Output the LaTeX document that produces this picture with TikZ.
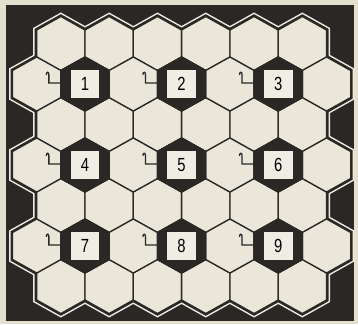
\documentclass[tikz,border=0pt]{standalone}
\usepackage{fontspec}
\setsansfont{Liberation Sans}
\usetikzlibrary{positioning}
\definecolor{paper}{RGB}{228,224,208}
\definecolor{cellfill}{RGB}{234,230,217}
\definecolor{ink}{RGB}{42,40,37}
\definecolor{rim}{RGB}{238,235,225}

% hexagon path around the current origin
\newcommand{\hexcell}{(0,-27) -- (24.15,-13.5) -- (24.15,13.5) -- (0,27) -- (-24.15,13.5) -- (-24.15,-13.5) -- cycle}

\begin{document}
\begin{tikzpicture}[
  x=1pt, y=-1pt,
  rimline/.style={draw=rim, line width=7pt, line join=miter},
  gapline/.style={draw=ink, line width=4pt, line join=miter},
  cell/.style={fill=cellfill, draw=ink, line width=1.3pt, line join=round},
  darkcell/.style={fill=ink, draw=ink, line width=1.3pt},
  numbox/.style={draw=ink, fill=cellfill!70!white, line width=1.4pt,
                 minimum size=30pt, inner sep=0pt,
                 font=\sffamily\fontsize{19}{19}\selectfont},
  hook/.style={draw=ink, line width=1.3pt, line cap=round},
]
\useasboundingbox (0,0) rectangle (358,324);
\fill[paper] (0,0) rectangle (358,324);
\fill[ink] (6,5) rectangle (354,321);

% board: three layers give the double rim
\foreach \sty in {rimline, gapline, cell} {
  \foreach \r in {0,2,4,6}
    \foreach \k in {0,...,5}
      \path[\sty, shift={(60.85+48.3*\k, 43.5+40.5*\r)}] \hexcell;
  \foreach \r in {1,3,5}
    \foreach \k in {0,...,6}
      \path[\sty, shift={(36.7+48.3*\k, 43.5+40.5*\r)}] \hexcell;
}

% numbered cells
\foreach \r [count=\i from 0] in {1,3,5}
  \foreach \k [count=\j from 1] in {1,3,5} {
    \pgfmathtruncatemacro{\num}{3*\i+\j}
    \path[darkcell, shift={(36.7+48.3*\k, 43.5+40.5*\r)}] \hexcell;
    \node[numbox] (n\num) at (36.7+48.3*\k, 43.5+40.5*\r) {\scalebox{0.78}[1]{\num}};
    \coordinate (e\num) at (12.55+48.3*\k, 42.5+40.5*\r);
    \draw[hook, shift={(e\num)}] (-14.5,-8.5)
      .. controls (-14.5,-11.5) and (-12,-11.5) .. (-12,-8.5)
      -- (-12,0) -- (0,0);
  }
\end{tikzpicture}
\end{document}
